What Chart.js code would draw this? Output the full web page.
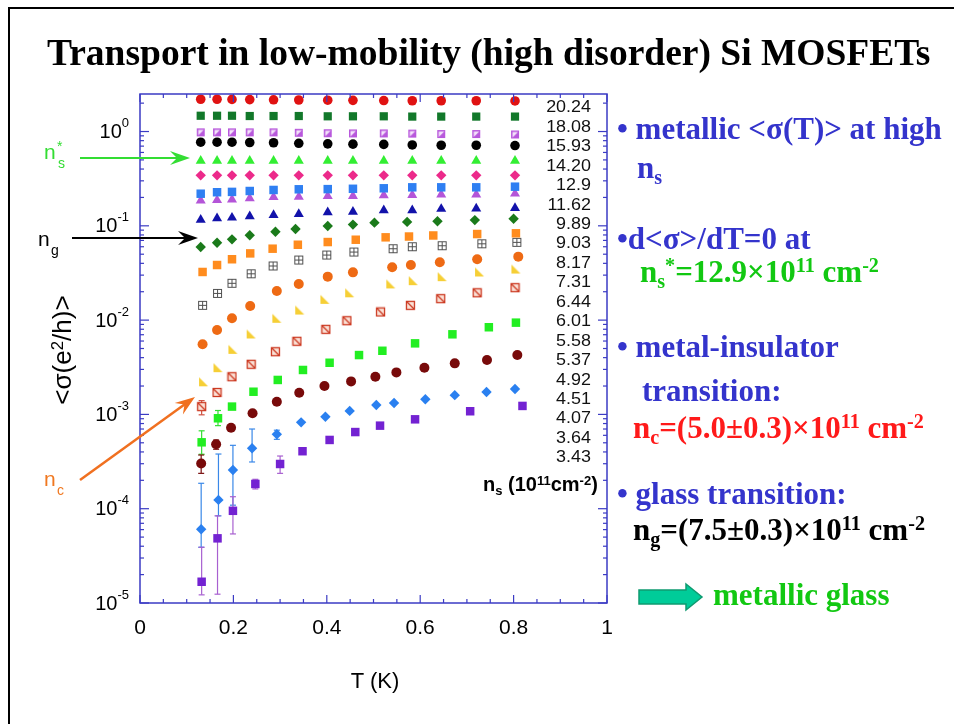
<!DOCTYPE html>
<html><head><meta charset="utf-8">
<script src="https://cdn.jsdelivr.net/npm/chart.js@4.4.0/dist/chart.umd.min.js"></script>
<style>
html,body{margin:0;padding:0;background:#fff;}
#wrap{position:relative;width:954px;height:724px;overflow:hidden;background:#fff;}
#frame{position:absolute;left:8px;top:7px;width:980px;height:760px;border-left:2px solid #000;border-top:2px solid #000;}
canvas{position:absolute;left:0;top:0;}
.t{position:absolute;white-space:nowrap;line-height:1;}
.serif{font-family:"Liberation Serif","Times New Roman",serif;font-weight:bold;font-size:31px;}
.sans{font-family:"Liberation Sans",Arial,sans-serif;}
.sub{font-size:0.65em;position:relative;top:0.3em;}
.sup{font-size:0.65em;position:relative;top:-0.5em;}
.blue{color:#3434cc;}
.green{color:#12c812;}
.red{color:#ff1a1a;}
</style></head>
<body>
<div id="wrap">
<div id="frame"></div>
<canvas id="c" width="954" height="724"></canvas>

<div class="t serif" style="left:47px;top:34px;font-size:37.5px;color:#000;" id="title">Transport in low-mobility (high disorder) Si MOSFETs</div>

<div class="t sans" style="left:62px;top:350px;font-size:26px;color:#000;transform:translate(-50%,-50%) rotate(-90deg);">&lt;σ(e<span class="sup">2</span>/h)&gt;</div>
<div class="t sans" style="left:375px;top:681px;font-size:22px;color:#000;transform:translate(-50%,-50%);">T (K)</div>

<div class="t sans" style="left:44px;top:141px;font-size:21px;color:#33dd33;">n</div>
<div class="t sans" style="left:57px;top:139px;font-size:14px;color:#33dd33;">*</div>
<div class="t sans" style="left:58px;top:156px;font-size:14px;color:#33dd33;">s</div>
<div class="t sans" style="left:38px;top:228px;font-size:21px;color:#000;">n</div>
<div class="t sans" style="left:51px;top:243px;font-size:14px;color:#000;">g</div>
<div class="t sans" style="left:44px;top:468px;font-size:21px;color:#f07820;">n</div>
<div class="t sans" style="left:57px;top:483px;font-size:14px;color:#f07820;">c</div>

<div class="t sans" style="left:483px;top:474px;font-size:20px;font-weight:bold;color:#000;">n<span class="sub">s</span> (10<span class="sup">11</span>cm<span class="sup">-2</span>)</div>

<div class="t serif blue" style="left:617px;top:113px;">• metallic &lt;σ(T)&gt; at high</div>
<div class="t serif blue" style="left:637px;top:152px;">n<span class="sub">s</span></div>
<div class="t serif blue" style="left:617px;top:223px;">•d&lt;σ&gt;/dT=0 at</div>
<div class="t serif green" style="left:640px;top:256px;">n<span class="sub">s</span><span class="sup">*</span>=12.9×10<span class="sup">11</span> cm<span class="sup">-2</span></div>
<div class="t serif blue" style="left:617px;top:331px;">• metal-insulator</div>
<div class="t serif blue" style="left:642px;top:375px;">transition:</div>
<div class="t serif red" style="left:633px;top:412px;">n<span class="sub">c</span>=(5.0±0.3)×10<span class="sup">11</span> cm<span class="sup">-2</span></div>
<div class="t serif blue" style="left:617px;top:478px;">• glass transition:</div>
<div class="t serif" style="left:633px;top:514px;color:#000;">n<span class="sub">g</span>=(7.5±0.3)×10<span class="sup">11</span> cm<span class="sup">-2</span></div>
<div class="t serif green" style="left:713px;top:579px;">metallic glass</div>
</div>

<script>
// ---------------- DATA ----------------
const N_S = ['20.24','18.08','15.93','14.20','12.9','11.62','9.89','9.03','8.17','7.31','6.44','6.01','5.58','5.37','4.92','4.51','4.07','3.64','3.43'];
const X_TICKS = [0, 0.2, 0.4, 0.6, 0.8, 1];
const X_TICK_LABELS = ['0','0.2','0.4','0.6','0.8','1'];
const Y_DECADES = [-5,-4,-3,-2,-1,0];

const T_HI = [0.130,0.165,0.197,0.235,0.286,0.340,0.402,0.456,0.522,0.583,0.645,0.720,0.803];
const S_2024 = [2.20,2.20,2.19,2.18,2.17,2.16,2.15,2.14,2.13,2.12,2.12,2.12,2.11];
const S_1808 = [1.47,1.47,1.47,1.46,1.46,1.46,1.45,1.45,1.45,1.44,1.44,1.44,1.44];
const S_1593 = [0.98,0.98,0.98,0.98,0.98,0.97,0.96,0.955,0.955,0.95,0.94,0.94,0.93];
const S_1420 = [0.77,0.77,0.77,0.765,0.76,0.75,0.74,0.735,0.73,0.72,0.715,0.715,0.71];
const S_1290 = [0.49,0.49,0.49,0.49,0.49,0.49,0.49,0.49,0.49,0.49,0.49,0.49,0.49];
const S_1162 = [0.343,0.343,0.343,0.343,0.343,0.343,0.343,0.343,0.343,0.343,0.343,0.343,0.343];
const S_989  = [0.219,0.227,0.229,0.234,0.240,0.244,0.245,0.247,0.250,0.256,0.256,0.256,0.260];
const S_903  = [0.185,0.187,0.190,0.196,0.202,0.203,0.207,0.207,0.211,0.212,0.214,0.214,0.219];
const S_817  = [0.116,0.120,0.122,0.126,0.130,0.133,0.139,0.141,0.146,0.146,0.151,0.152,0.154];

const T_731 = [0.130,0.165,0.197,0.235,0.290,0.333,0.402,0.456,0.502,0.572,0.637,0.717,0.800];
const S_731 = [0.0596,0.0662,0.0719,0.0794,0.0866,0.0925,0.0995,0.103,0.108,0.110,0.112,0.115,0.119];
const T_644 = [0.134,0.165,0.197,0.236,0.284,0.338,0.402,0.462,0.526,0.576,0.628,0.722,0.805];
const S_644 = [0.0324,0.0384,0.0442,0.051,0.0572,0.063,0.0673,0.0712,0.0755,0.077,0.079,0.0818,0.0833];
const T_601 = [0.134,0.166,0.197,0.238,0.285,0.340,0.400,0.458,0.542,0.583,0.647,0.732,0.807];
const S_601 = [0.01435,0.0192,0.0246,0.031,0.0375,0.0434,0.049,0.0527,0.0572,0.060,0.0615,0.0645,0.0668];
const T_558 = [0.134,0.165,0.197,0.236,0.293,0.340,0.402,0.456,0.540,0.580,0.642,0.722,0.810];
const S_558 = [0.00554,0.00785,0.01045,0.0141,0.0204,0.0242,0.0289,0.0321,0.0363,0.0384,0.041,0.0442,0.0471];
const T_537 = [0.136,0.167,0.199,0.238,0.293,0.342,0.396,0.449,0.537,0.585,0.647,0.727,0.805];
const S_537 = [0.00222,0.00313,0.0049,0.00713,0.01045,0.0128,0.0166,0.0195,0.0242,0.0262,0.0289,0.0324,0.0348];
const T_492 = [0.132,0.165,0.197,0.238,0.290,0.336,0.398,0.443,0.515,0.579,0.644,0.722,0.803];
const S_492 = [0.00121,0.00171,0.00251,0.0034,0.00462,0.00596,0.00798,0.00986,0.0122,0.01435,0.0169,0.0195,0.0221];
const T_451 = [0.132,0.167,0.197,0.243,0.295,0.349,0.406,0.469,0.519,0.589,0.669,0.747,0.805];
const S_451 = [0.000506,0.00091,0.00121,0.00174,0.00232,0.00296,0.00353,0.00426,0.00473,0.00567,0.00707,0.0084,0.0094];
const T_407 = [0.131,0.163,0.195,0.241,0.293,0.341,0.395,0.452,0.504,0.549,0.609,0.674,0.743,0.808];
const S_407 = [0.000302,0.000482,0.000723,0.00103,0.00136,0.0017,0.0020,0.00224,0.00251,0.00279,0.00313,0.00348,0.00378,0.00426];
const T_364 = [0.131,0.168,0.199,0.240,0.293,0.345,0.397,0.449,0.506,0.544,0.611,0.674,0.742,0.803];
const S_364 = [6.05e-5,1.24e-4,2.57e-4,4.37e-4,6.15e-4,8.24e-4,9.46e-4,1.09e-3,1.26e-3,1.32e-3,1.45e-3,1.60e-3,1.73e-3,1.86e-3];
const T_343 = [0.132,0.166,0.199,0.247,0.300,0.348,0.406,0.461,0.514,0.589,0.707,0.819];
const S_343 = [1.68e-5,4.85e-5,9.5e-5,1.83e-4,2.98e-4,4.07e-4,5.36e-4,6.5e-4,7.6e-4,8.87e-4,1.08e-3,1.23e-3];

// error bars [low, high] for the first points of a series
const ERR_492 = [[9.9e-4,1.4e-3]];
const ERR_451 = [[3.78e-4,6.7e-4],[7.6e-4,1.1e-3]];
const ERR_407 = [[2.37e-4,3.71e-4],[4.27e-4,5.35e-4]];
const ERR_364 = [[3.9e-5,1.86e-4],[8.4e-5,3.8e-4],[1.09e-4,4.7e-4],[3.13e-4,7.0e-4],[5.44e-4,6.8e-4]];
const ERR_343 = [[1.22e-5,3.9e-5],[1.24e-5,8.4e-5],[5.4e-5,1.34e-4],[1.62e-4,2.05e-4],[2.37e-4,3.62e-4]];

// ---------------- MARKERS ----------------
function mk(w,h,fn){const c=document.createElement('canvas');c.width=w;c.height=h;const g=c.getContext('2d');fn(g);return c;}
const M_HALF = mk(10,10,g=>{g.fillStyle='#b858dc';g.fillRect(1,1,8,8);g.fillStyle='#f4e4fa';g.beginPath();g.moveTo(2.5,2.5);g.lineTo(8,2.5);g.lineTo(2.5,8);g.closePath();g.fill();});
const M_CROSS = mk(11,11,g=>{g.fillStyle='#fff';g.fillRect(1,1,9,9);g.strokeStyle='#505050';g.lineWidth=1;g.strokeRect(1.5,1.5,8,8);g.beginPath();g.moveTo(5.5,1.5);g.lineTo(5.5,9.5);g.moveTo(1.5,5.5);g.lineTo(9.5,5.5);g.stroke();});
const M_YEL = mk(11,11,g=>{g.fillStyle='#f6cf36';g.beginPath();g.moveTo(1,1);g.lineTo(1,10);g.lineTo(10,10);g.closePath();g.fill();});
const M_DIAG = mk(11,11,g=>{g.fillStyle='#fbe3d8';g.fillRect(1,1,9,9);g.strokeStyle='#cc3a22';g.lineWidth=1.3;g.strokeRect(1.5,1.5,8,8);g.beginPath();g.moveTo(1.5,1.5);g.lineTo(9.5,9.5);g.stroke();});

const SERIES = [
 {t:T_HI,v:S_2024,ps:'circle',r:4.8,c:'#e01212'},
 {t:T_HI,v:S_1808,ps:'rect',r:5.8,c:'#12782a'},
 {t:T_HI,v:S_1593,ps:M_HALF,r:5,c:'#b858dc'},
 {t:T_HI,v:S_1420,ps:'circle',r:4.8,c:'#000000'},
 {t:T_HI,v:S_1290,ps:'triangle',r:5.8,c:'#33ee33'},
 {t:T_HI,v:S_1162,ps:'rectRot',r:5.2,c:'#ec2a8a'},
 {t:T_HI,v:S_989,ps:'rect',r:6,c:'#2f7ff2'},
 {t:T_HI,v:S_903,ps:'triangle',r:5.8,c:'#b455d8'},
 {t:T_HI,v:S_817,ps:'triangle',r:5.8,c:'#1212aa'},
 {t:T_731,v:S_731,ps:'rectRot',r:5.2,c:'#1a7a1a'},
 {t:T_644,v:S_644,ps:'rect',r:6,c:'#ff8c1e'},
 {t:T_601,v:S_601,ps:M_CROSS,r:5,c:'#505050'},
 {t:T_558,v:S_558,ps:'circle',r:5,c:'#ee6a14'},
 {t:T_537,v:S_537,ps:M_YEL,r:5,c:'#f6cf36'},
 {t:T_492,v:S_492,ps:M_DIAG,r:5,c:'#cc3a22',err:ERR_492,ec:'#d05040'},
 {t:T_451,v:S_451,ps:'rect',r:6,c:'#22ee22',err:ERR_451,ec:'#33dd33'},
 {t:T_407,v:S_407,ps:'circle',r:5,c:'#780a0a',err:ERR_407,ec:'#7a1010'},
 {t:T_364,v:S_364,ps:'rectRot',r:5.2,c:'#2a80f0',err:ERR_364,ec:'#3a88e8'},
 {t:T_343,v:S_343,ps:'rect',r:6,c:'#7322d2',err:ERR_343,ec:'#a860d0'},
];

const datasets = SERIES.map((s,k)=>({
  label:N_S[k],
  data:s.t.map((tt,i)=>({x:tt,y:s.v[i]})),
  pointStyle:s.ps, pointRadius:s.r, pointHoverRadius:s.r,
  backgroundColor:s.c, borderColor:s.c, borderWidth:0, showLine:false
}));

const AX = '#3b3bc4';
function line(ctx,x1,y1,x2,y2){ctx.beginPath();ctx.moveTo(x1,y1);ctx.lineTo(x2,y2);ctx.stroke();}
function arrow(ctx,x1,y1,x2,y2,col,lw){
  const a=Math.atan2(y2-y1,x2-x1);
  ctx.save();ctx.strokeStyle=col;ctx.fillStyle=col;ctx.lineWidth=lw;
  line(ctx,x1,y1,x2-Math.cos(a)*10,y2-Math.sin(a)*10);
  ctx.translate(x2,y2);ctx.rotate(a);
  ctx.beginPath();ctx.moveTo(0,0);ctx.lineTo(-20,-7);ctx.lineTo(-13,0);ctx.lineTo(-20,7);ctx.closePath();ctx.fill();
  ctx.restore();
}

const errPlugin = {
  id:'errbars',
  beforeDatasetsDraw(chart){
    const {ctx,scales:{x,y}}=chart;
    ctx.save();
    SERIES.forEach(s=>{
      if(!s.err) return;
      ctx.strokeStyle=s.ec; ctx.lineWidth=1.2;
      s.err.forEach((e,i)=>{
        const px=x.getPixelForValue(s.t[i]);
        const lo=y.getPixelForValue(e[0]), hi=y.getPixelForValue(e[1]);
        line(ctx,px,lo,px,hi); line(ctx,px-3,lo,px+3,lo); line(ctx,px-3,hi,px+3,hi);
      });
    });
    ctx.restore();
  }
};

const framePlugin = {
  id:'frameTicks',
  afterDraw(chart){
    const {ctx,chartArea:a,scales:{x,y}}=chart;
    ctx.save();
    ctx.strokeStyle=AX; ctx.lineWidth=1.5;
    ctx.strokeRect(a.left,a.top,a.right-a.left,a.bottom-a.top);
    ctx.lineWidth=1.2;
    for(let i=0;i<=20;i++){
      const v=i*0.05, px=x.getPixelForValue(v), len=(i%4===0)?8:4;
      line(ctx,px,a.bottom,px,a.bottom-len); line(ctx,px,a.top,px,a.top+len);
    }
    Y_DECADES.forEach(e=>{
      for(let m=1;m<=9;m++){
        const v=m*Math.pow(10,e); if(v>y.max) break;
        const py=y.getPixelForValue(v), len=(m===1)?9:4;
        line(ctx,a.left,py,a.left+len,py); line(ctx,a.right,py,a.right-len,py);
      }
    });
    // x tick labels
    ctx.fillStyle='#000'; ctx.font='21px "Liberation Sans", Arial, sans-serif';
    ctx.textAlign='center'; ctx.textBaseline='middle';
    X_TICKS.forEach((v,i)=>ctx.fillText(X_TICK_LABELS[i],x.getPixelForValue(v),a.bottom+25));
    // y tick labels 10^n
    Y_DECADES.forEach(e=>{
      const py=y.getPixelForValue(Math.pow(10,e));
      const ex=String(e);
      ctx.font='13px "Liberation Sans", Arial, sans-serif';
      const ew=ctx.measureText(ex).width;
      const right=a.left-11;
      ctx.textAlign='left'; ctx.fillText(ex,right-ew,py-8);
      ctx.font='20px "Liberation Sans", Arial, sans-serif';
      ctx.textAlign='right'; ctx.fillText('10',right-ew,py+1);
    });
    // n_s labels
    ctx.font='16px "Liberation Sans", Arial, sans-serif'; ctx.fillStyle='#111';
    ctx.textAlign='right';
    N_S.forEach((s,i)=>{
      ctx.save(); ctx.translate(591,108+i*19.44); ctx.scale(1.12,1); ctx.fillText(s,0,0); ctx.restore();
    });
    // annotation arrows
    arrow(ctx,80,158,190,158,'#33dd33',2);
    arrow(ctx,72,238,198,238,'#000',2);
    arrow(ctx,80,480,195,397,'#f07020',2.5);
    // block arrow
    ctx.fillStyle='#00cc99'; ctx.strokeStyle='#0f9a70'; ctx.lineWidth=1.5;
    ctx.beginPath();
    ctx.moveTo(639,590);ctx.lineTo(686,590);ctx.lineTo(686,584);ctx.lineTo(702,597);
    ctx.lineTo(686,610);ctx.lineTo(686,604);ctx.lineTo(639,604);ctx.closePath();
    ctx.fill();ctx.stroke();
    ctx.restore();
  }
};

new Chart(document.getElementById('c'),{
  type:'scatter',
  data:{datasets},
  options:{
    responsive:false, animation:false, events:[],
    layout:{padding:{left:140,top:94,right:347,bottom:121}},
    plugins:{legend:{display:false},tooltip:{enabled:false},title:{display:false}},
    scales:{
      x:{type:'linear',min:0,max:1,display:false},
      y:{type:'logarithmic',min:1e-5,max:2.5,display:false}
    }
  },
  plugins:[errPlugin,framePlugin]
});
</script>
</body></html>
